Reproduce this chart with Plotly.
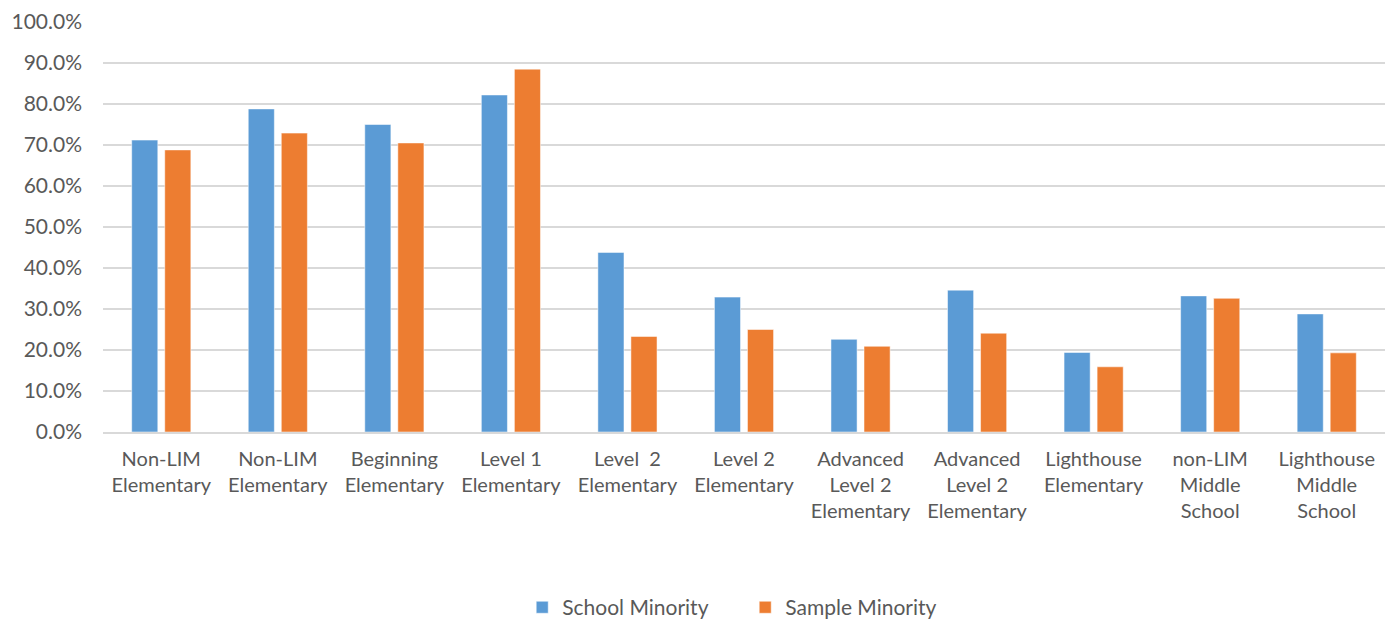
import plotly.graph_objects as go

# Category labels (two appear twice, so positions are numeric and labelled via ticktext)
categories = [
    "Non-LIM<br>Elementary",
    "Non-LIM<br>Elementary",
    "Beginning<br>Elementary",
    "Level 1<br>Elementary",
    "Level  2<br>Elementary",
    "Level 2<br>Elementary",
    "Advanced<br>Level 2<br>Elementary",
    "Advanced<br>Level 2<br>Elementary",
    "Lighthouse<br>Elementary",
    "non-LIM<br>Middle<br>School",
    "Lighthouse<br>Middle<br>School",
]

school_minority = [0.712, 0.788, 0.750, 0.822, 0.438, 0.329, 0.226, 0.346, 0.194, 0.332, 0.288]
sample_minority = [0.688, 0.729, 0.705, 0.885, 0.233, 0.250, 0.209, 0.241, 0.159, 0.326, 0.193]

y_ticks = [i / 10 for i in range(11)]

positions = list(range(len(categories)))

BLUE = "#5B9BD5"
ORANGE = "#ED7D31"
TEXT = "#595959"
GRID = "#D9D9D9"
FONT = "Lato, 'Open Sans', sans-serif"

fig = go.Figure()
fig.add_trace(go.Bar(
    x=positions, y=school_minority, name="School Minority",
    marker=dict(color=BLUE, line=dict(color="rgba(255,255,255,0.5)", width=1)),
))
fig.add_trace(go.Bar(
    x=positions, y=sample_minority, name="Sample Minority",
    marker=dict(color=ORANGE, line=dict(color="rgba(255,255,255,0.5)", width=1)),
))

fig.update_layout(
    width=1395, height=620,
    margin=dict(l=103, r=10, t=22, b=188, autoexpand=False),
    paper_bgcolor="white", plot_bgcolor="white",
    barmode="group", bargap=0.433, bargroupgap=0.21,
    font=dict(family=FONT, color=TEXT, size=20),
    showlegend=True,
    legend=dict(
        orientation="h", x=0.327, xanchor="left",
        yref="container", y=0.02, yanchor="middle",
        font=dict(size=21, color=TEXT), itemwidth=30, traceorder="normal",
        entrywidth=178, entrywidthmode="pixels",
    ),
)

fig.update_xaxes(
    tickmode="array", tickvals=positions, ticktext=categories,
    range=[-0.5, len(categories) - 0.5],
    showgrid=False, zeroline=False,
    showline=True, linecolor=GRID, linewidth=2,
    ticks="", ticklabelstandoff=8, automargin=False,
    tickfont=dict(size=20, color=TEXT),
)
fig.update_yaxes(
    range=[0, 1.0], tickmode="array", tickvals=y_ticks, tickformat=".1%",
    showgrid=True, gridcolor=GRID, gridwidth=2,
    zeroline=False, showline=False, ticks="", automargin=False,
    ticklabelstandoff=20,
    tickfont=dict(size=21, color=TEXT),
)

fig.write_html("out.html")
